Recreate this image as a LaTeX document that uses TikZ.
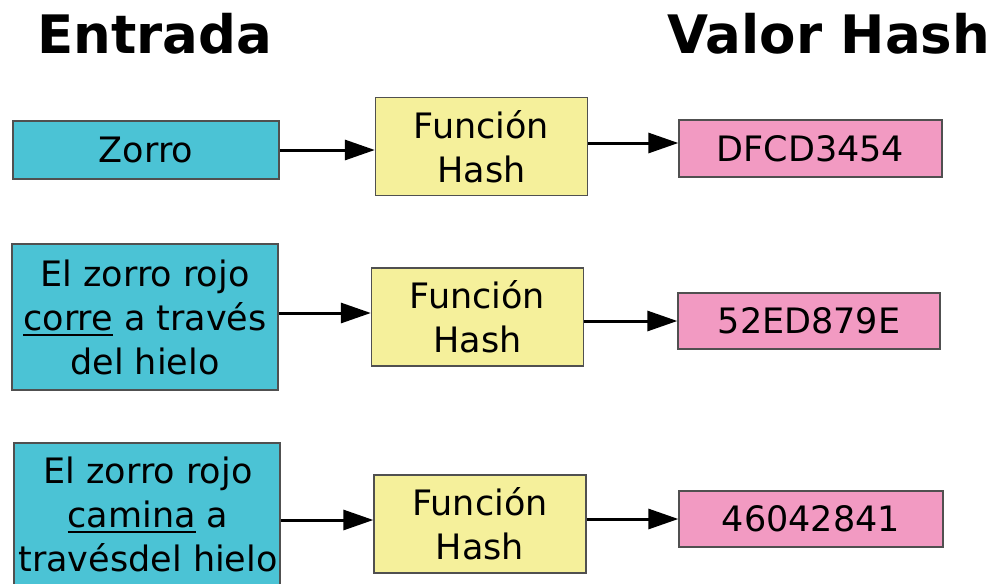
\documentclass[tikz,border=0pt]{standalone}
\usepackage{fontspec}
\setmainfont{DejaVu Sans}
\usetikzlibrary{arrows.meta}
\definecolor{cyanbox}{RGB}{75,195,213}
\definecolor{yelbox}{RGB}{245,240,155}
\definecolor{pinkbox}{RGB}{242,154,194}
\definecolor{edgegray}{RGB}{80,80,80}
\newsavebox{\ulbox}
\newcommand\myul[1]{\leavevmode\sbox{\ulbox}{#1}\rlap{\rule[-6pt]{\wd\ulbox}{2.5pt}}\usebox{\ulbox}}
\begin{document}
\begin{tikzpicture}[x=1pt,y=-1pt,
  box/.style={draw=edgegray,line width=1.3pt,inner sep=0pt,align=center,font=\fontsize{35}{44}\selectfont},
  inbox/.style={box,fill=cyanbox},
  fnbox/.style={box,fill=yelbox,minimum width=212pt,minimum height=98pt},
  hashbox/.style={box,fill=pinkbox},
  txt/.style={inner sep=0pt,align=center,font=\fontsize{35}{44}\selectfont},
  arr/.style={line width=3pt,-{Triangle[length=30pt,width=20pt]}},
  title/.style={font=\fontsize{53}{60}\selectfont\bfseries,anchor=base,inner sep=0pt}]
\useasboundingbox (0,0) rectangle (997,584);
\clip (0,0) rectangle (997,584);
% titles
\node[title] (tin) at (155,53) {Entrada};
\node[title] (tout) at (829,53) {Valor Hash};
% row 1
\node[inbox,minimum width=266pt,minimum height=58pt] (z1) at (146,150) {Zorro};
\node[fnbox] (f1) at (481.5,146.5) {Función\\Hash};
\node[hashbox,minimum width=263pt,minimum height=57pt] (h1) at (810.5,148.5) {DFCD3454};
% row 2
\node[inbox,minimum width=266pt,minimum height=146pt] (z2) at (145,317) {El zorro rojo\\\myul{corre} a través\\del hielo};
\node[fnbox] (f2) at (477.5,317) {Función\\Hash};
\node[hashbox,minimum width=262pt,minimum height=56pt] (h2) at (809,321) {52ED879E};
% row 3
\node[inbox,minimum width=266pt,minimum height=160pt] (z3) at (147,523) {};
\node[txt] (t3) at (148,514) {El zorro rojo\\\myul{camina} a\\travésdel hielo};
\node[fnbox] (f3) at (480,524) {Función\\Hash};
\node[hashbox,minimum width=264pt,minimum height=56pt] (h3) at (811,519) {46042841};
% arrows
\draw[arr] (z1.east) -- (z1.east -| f1.west);
\coordinate (a1) at ([yshift=3.5pt]f1.east);
\draw[arr] (a1) -- (a1 -| h1.west);
\coordinate (a2) at ([yshift=4pt]z2.east);
\draw[arr] (a2) -- (a2 -| f2.west);
\draw[arr] (h2.west -| f2.east) -- (h2.west);
\coordinate (a3) at ([yshift=4pt]f3.west);
\draw[arr] (a3 -| z3.east) -- (a3);
\draw[arr] (h3.west -| f3.east) -- (h3.west);
\end{tikzpicture}
\end{document}
